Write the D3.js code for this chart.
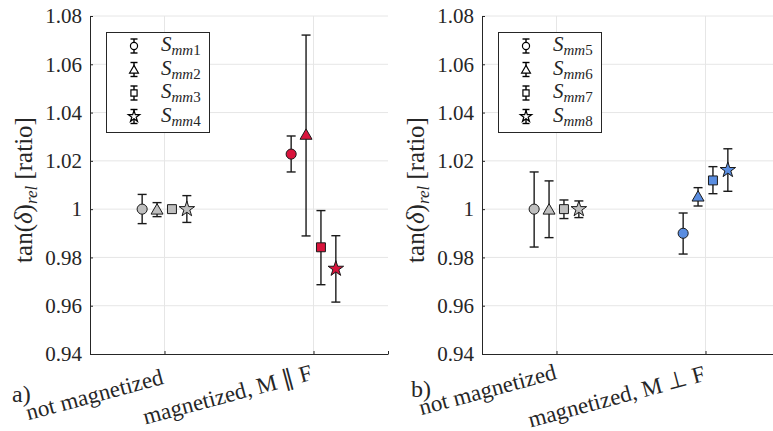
<!DOCTYPE html>
<html><head><meta charset="utf-8">
<script src="https://cdn.jsdelivr.net/npm/d3@7"></script>
<style>body{margin:0;background:#fff}svg{display:block}</style>
</head><body>
<script>
// ---- data ----
const categoriesA = ["not magnetized", "magnetized, M \u2225 F"];
const categoriesB = ["not magnetized", "magnetized, M \u22A5 F"];
const seriesA = ["1", "2", "3", "4"];
const seriesB = ["5", "6", "7", "8"];
const shapes = ["circle", "triangle", "square", "star"];
const yTicks = [0.94, 0.96, 0.98, 1.00, 1.02, 1.04, 1.06, 1.08];
const yTickLabels = ["0.94", "0.96", "0.98", "1", "1.02", "1.04", "1.06", "1.08"];
// values per series: [not magnetized, magnetized]
const valuesA = [[1.000, 1.0228], [1.000, 1.0310], [1.000, 0.9842], [1.000, 0.9753]];
const lowA   = [[0.9940, 1.0154], [0.9969, 0.9889], [0.9990, 0.9687], [0.9945, 0.9615]];
const highA  = [[1.0061, 1.0303], [1.0027, 1.0721], [1.0010, 0.9994], [1.0056, 0.9890]];
const valuesB = [[1.000, 0.9900], [1.000, 1.0054], [1.000, 1.0119], [1.000, 1.0162]];
const lowB   = [[0.9843, 0.9814], [0.9882, 1.0013], [0.9961, 1.0064], [0.9965, 1.0074]];
const highB  = [[1.0154, 0.9984], [1.0117, 1.0089], [1.0038, 1.0176], [1.0034, 1.0250]];
const offsets = [-0.15, -0.05, 0.05, 0.15];
const colorA = "#d9143c", colorB = "#5a8de0", colorBase = "#bfbfbf";

const FONT = "Liberation Serif";
const TXT = "#262626";
const W = 773, H = 431;
const svg = d3.select("body").append("svg").attr("width", W).attr("height", H)
  .attr("font-family", FONT);

const symType = {circle: d3.symbolCircle, triangle: d3.symbolTriangle, square: d3.symbolSquare, star: d3.symbolStar};
const symSize = {circle: 80, triangle: 62, square: 80, star: 75};
const symSizeLeg = {circle: 40, triangle: 34, square: 38, star: 40};
const ANG = 15 * Math.PI / 180;
const pendingLabels = [];

function panel(opt) {
  const {x0, cats, series, vals, lo, hi, color, tag, tagX, tagY, labelPos} = opt;
  const g = svg.append("g");
  const x = d3.scaleLinear().domain([0.5, 2.5]).range([x0, x0 + 298]);
  const y = d3.scaleLinear().domain([0.94, 1.08]).range([354, 16]);
  // grid
  g.append("g").selectAll("line").data(yTicks.slice(1)).join("line")
    .attr("x1", x(0.5)).attr("x2", x(2.5)).attr("y1", d => y(d)).attr("y2", d => y(d))
    .attr("stroke", "#e6e6e6").attr("stroke-width", 1);
  g.append("g").selectAll("line").data([1, 2]).join("line")
    .attr("x1", d => x(d)).attr("x2", d => x(d)).attr("y1", y(0.94)).attr("y2", y(1.08))
    .attr("stroke", "#e6e6e6").attr("stroke-width", 1);
  // axes
  const yAxis = d3.axisLeft(y).tickValues(yTicks).tickFormat((d, i) => yTickLabels[i]).tickSizeInner(-3).tickSizeOuter(0).tickPadding(8);
  const ya = g.append("g").attr("transform", `translate(${x0},0)`).call(yAxis);
  ya.selectAll("text").attr("font-family", FONT).attr("font-size", 21).attr("fill", TXT);
  ya.selectAll("line,path").attr("stroke", TXT);
  const xAxis = d3.axisBottom(x).tickValues([1, 2, 2.5]).tickFormat("").tickSizeInner(-3).tickSizeOuter(0);
  const xa = g.append("g").attr("transform", `translate(0,${y(0.94)})`).call(xAxis);
  xa.selectAll("line,path").attr("stroke", TXT);
  // x category labels: collected, drawn later at svg root
  cats.forEach((c, i) => pendingLabels.push({c, mx: x(i + 1) + labelPos[i][0], my: labelPos[i][1]}));
  g.append("text").attr("x", tagX).attr("y", tagY).attr("font-size", 24).attr("font-family", FONT).attr("fill", TXT).text(tag);
  // y label
  const yl = g.append("text").attr("x", x0 - 58).attr("y", 190)
    .attr("transform", `rotate(-90 ${x0 - 58} 190)`)
    .attr("text-anchor", "middle").attr("font-size", 25).attr("font-family", FONT).attr("fill", TXT);
  yl.append("tspan").attr("font-family", FONT).text("tan(");
  yl.append("tspan").attr("font-family", FONT).attr("font-style", "italic").text("\u03B4");
  yl.append("tspan").attr("font-family", FONT).text(")");
  yl.append("tspan").attr("font-family", FONT).attr("font-style", "italic").attr("font-size", 17).attr("dy", 5).text("rel");
  yl.append("tspan").attr("font-family", FONT).attr("dy", -5).text(" [ratio]");
  // data
  const pts = [];
  series.forEach((s, si) => vals[si].forEach((v, ci) => {
    pts.push({si, ci, v, lo: lo[si][ci], hi: hi[si][ci], cx: x(ci + 1 + offsets[si])});
  }));
  const eb = g.append("g").attr("stroke", "#1a1a1a").attr("stroke-width", 1.4).attr("fill", "none");
  pts.forEach(p => {
    eb.append("line").attr("x1", p.cx).attr("x2", p.cx).attr("y1", y(p.lo)).attr("y2", y(p.hi));
    eb.append("line").attr("x1", p.cx - 4.5).attr("x2", p.cx + 4.5).attr("y1", y(p.lo)).attr("y2", y(p.lo));
    eb.append("line").attr("x1", p.cx - 4.5).attr("x2", p.cx + 4.5).attr("y1", y(p.hi)).attr("y2", y(p.hi));
  });
  g.append("g").selectAll("path").data(pts).join("path")
    .attr("transform", p => `translate(${p.cx},${y(p.v) + (shapes[p.si] === "triangle" ? 1.5 : 0)})`)
    .attr("d", p => d3.symbol(symType[shapes[p.si]], symSize[shapes[p.si]])())
    .attr("fill", p => p.ci === 0 ? colorBase : color)
    .attr("stroke", "#1a1a1a").attr("stroke-width", 1);
  // legend
  const lx = x0 + 16, ly = 32;
  const leg = g.append("g");
  leg.append("rect").attr("x", lx + 0.5).attr("y", ly + 0.5).attr("width", 103).attr("height", 100)
    .attr("fill", "#fff").attr("stroke", TXT).attr("stroke-width", 1);
  series.forEach((s, i) => {
    const cy = ly + 14 + i * 23.5, mx = lx + 28;
    leg.append("line").attr("x1", mx).attr("x2", mx).attr("y1", cy - 7).attr("y2", cy + 7).attr("stroke", "#000").attr("stroke-width", 1.4);
    leg.append("line").attr("x1", mx - 3.5).attr("x2", mx + 3.5).attr("y1", cy - 7).attr("y2", cy - 7).attr("stroke", "#000").attr("stroke-width", 1.4);
    leg.append("line").attr("x1", mx - 3.5).attr("x2", mx + 3.5).attr("y1", cy + 7).attr("y2", cy + 7).attr("stroke", "#000").attr("stroke-width", 1.4);
    leg.append("path").attr("transform", `translate(${mx},${cy + (shapes[i] === "triangle" ? 1 : 0)})`)
      .attr("d", d3.symbol(symType[shapes[i]], symSizeLeg[shapes[i]])())
      .attr("fill", "#fff").attr("stroke", "#000").attr("stroke-width", 1.2);
    const t = leg.append("text").attr("x", lx + 55).attr("y", cy + 5).attr("font-size", 21)
      .attr("font-family", FONT).attr("fill", TXT);
    t.append("tspan").attr("font-family", FONT).attr("font-style", "italic").text("S");
    t.append("tspan").attr("font-family", FONT).attr("font-style", "italic").attr("font-size", 15).attr("dy", 4).text("mm");
    t.append("tspan").attr("font-family", FONT).attr("font-size", 15).text(s);
  });
}

panel({x0: 90, cats: categoriesA, series: seriesA, vals: valuesA, lo: lowA, hi: highA, color: colorA,
  tag: "a)", tagX: 12, tagY: 402, labelPos: [[-68, 402], [-84, 402]]});
panel({x0: 482, cats: categoriesB, series: seriesB, vals: valuesB, lo: lowB, hi: highB, color: colorB,
  tag: "b)", tagX: 411, tagY: 397, labelPos: [[-67, 397], [-87, 404]]});

// rotated category labels at svg root (rotate(-15) around their start point)
pendingLabels.forEach(p => {
  const t = svg.append("text").attr("font-size", 23).attr("font-family", FONT).attr("fill", TXT).text(p.c);
  let L = p.c.length * 23 * 0.44;
  try { const m = t.node().getComputedTextLength(); if (m > 0) L = m; } catch (e) {}
  const sx = p.mx - (L / 2) * Math.cos(ANG), sy = p.my + (L / 2) * Math.sin(ANG);
  t.attr("x", sx).attr("y", sy).attr("transform", `rotate(-15 ${sx} ${sy})`);
});
</script>
</body></html>
